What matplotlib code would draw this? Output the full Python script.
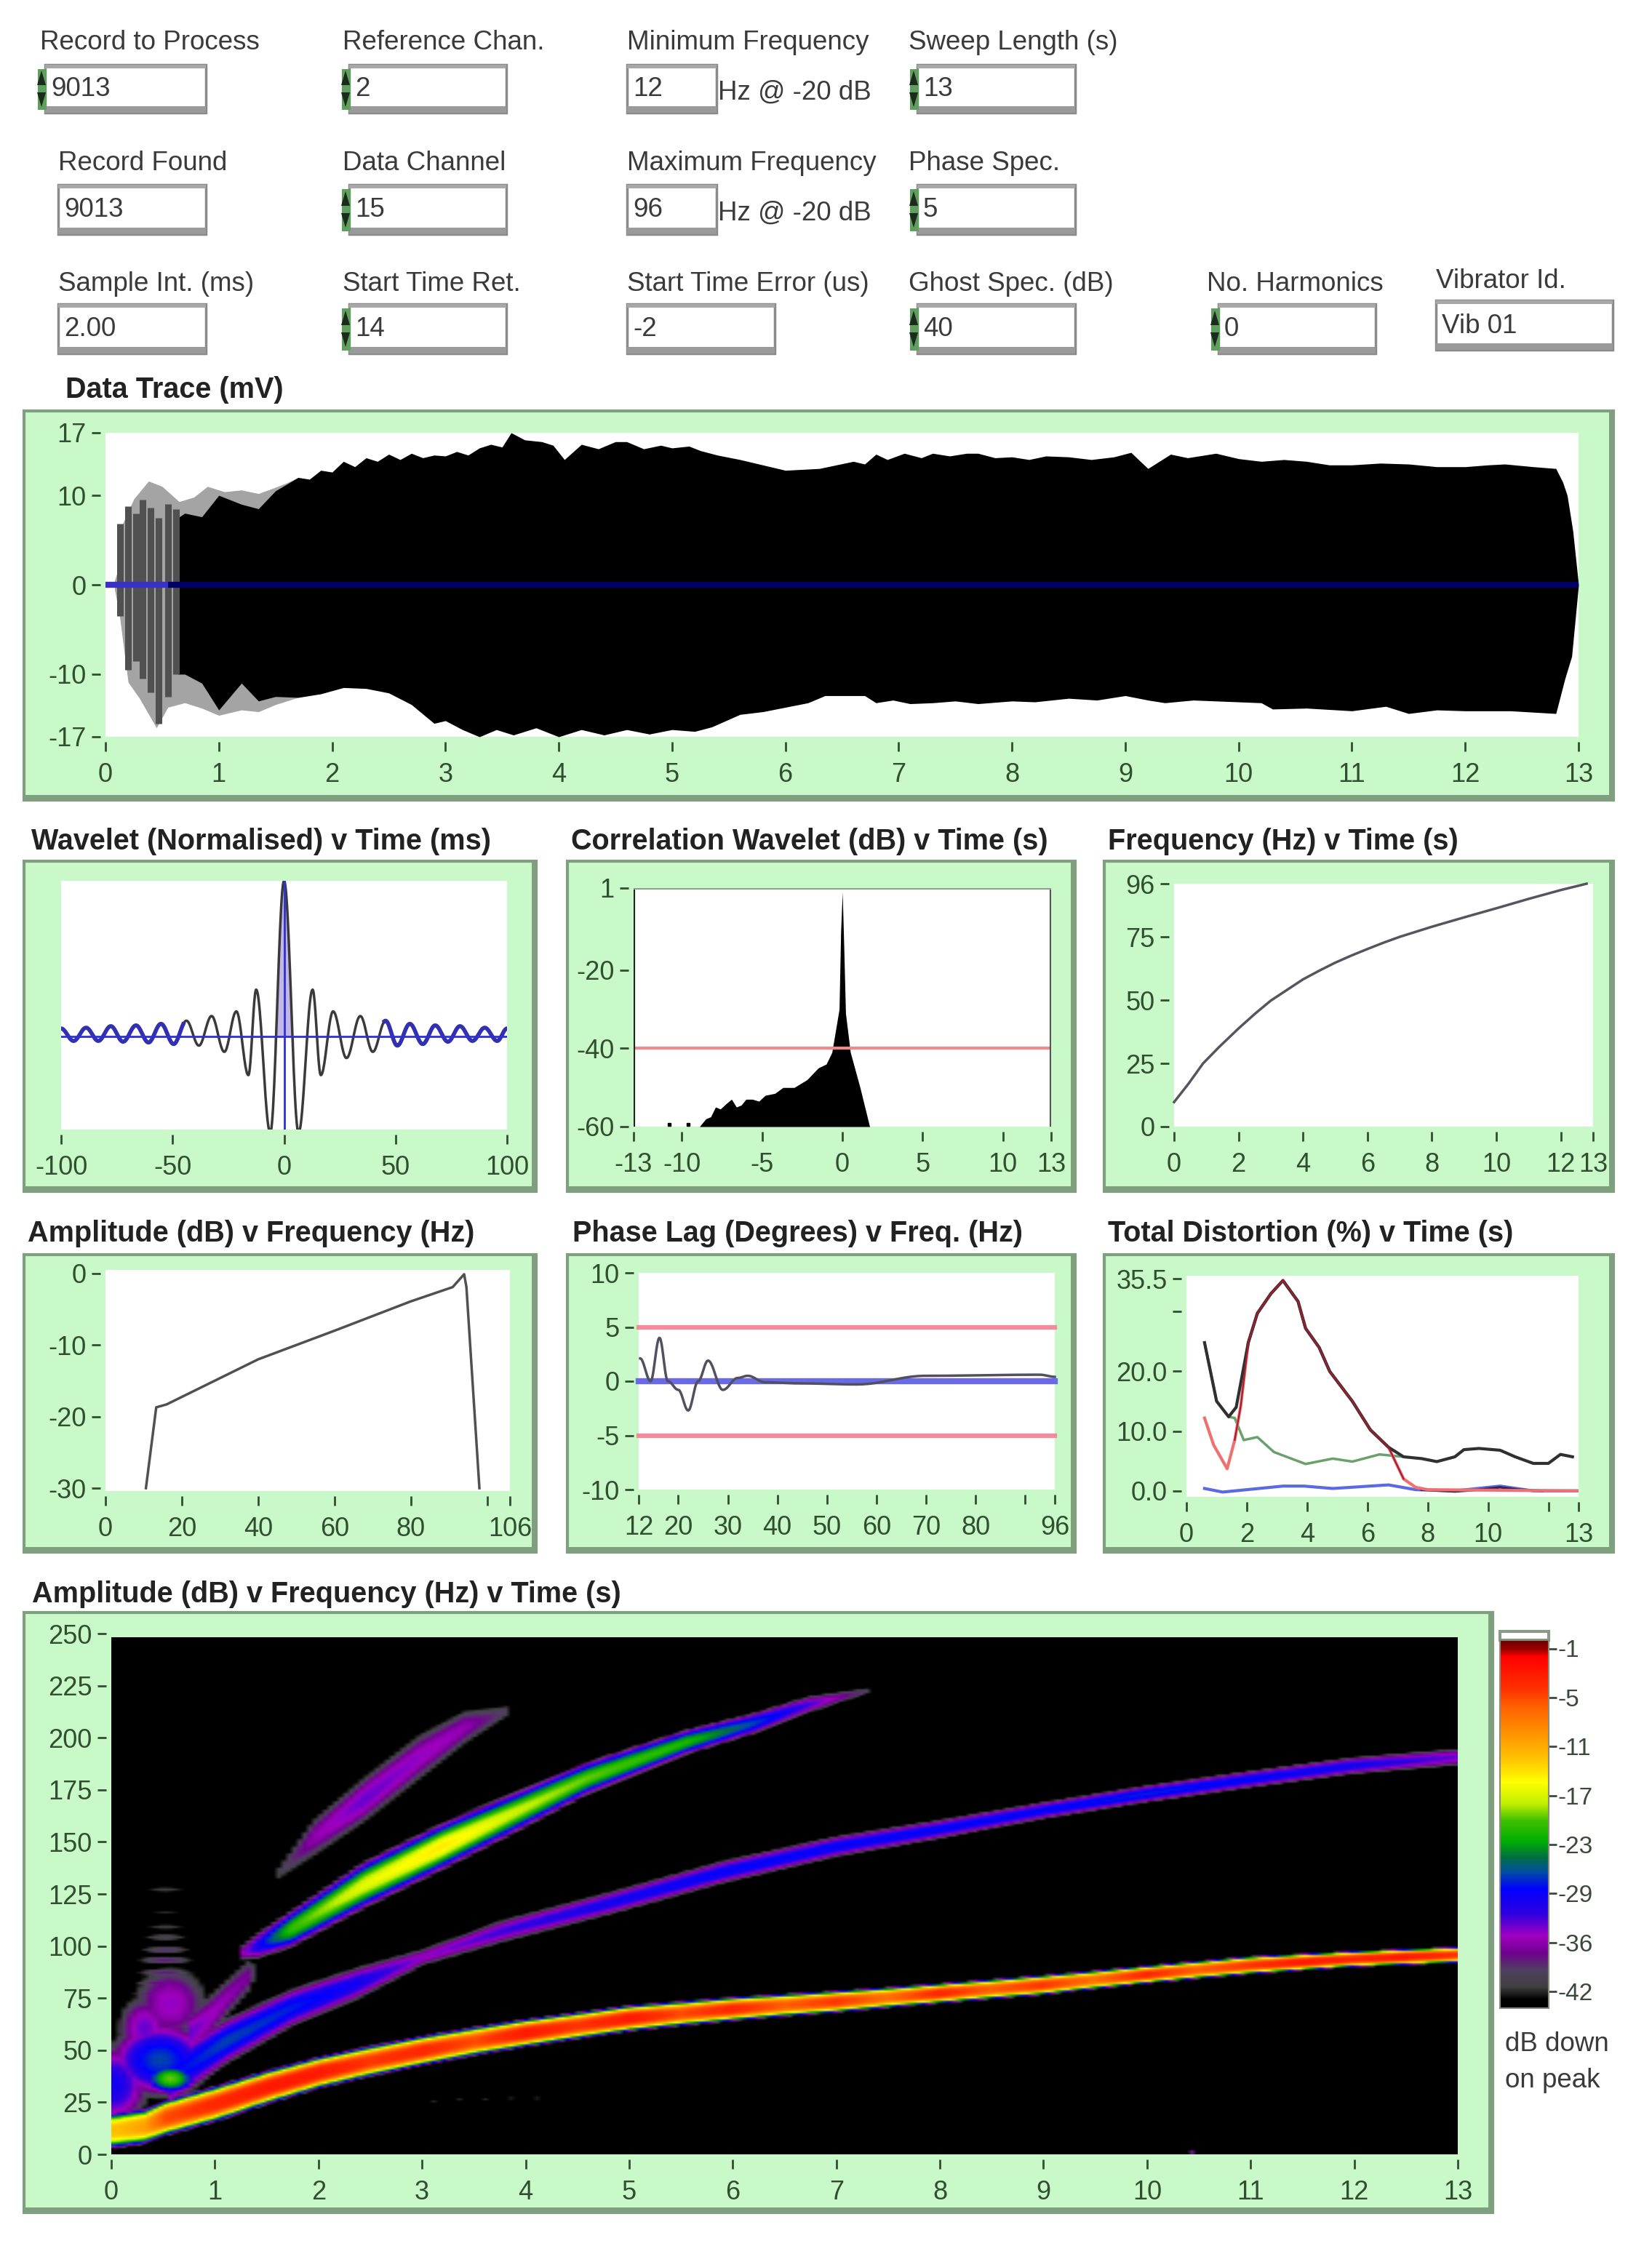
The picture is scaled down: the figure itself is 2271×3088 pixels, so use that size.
import numpy as np
import matplotlib
matplotlib.use("Agg")
import matplotlib.pyplot as plt
from matplotlib.colors import LinearSegmentedColormap
from matplotlib.patches import Rectangle, Polygon

plt.rcParams['font.family'] = ['Liberation Sans', 'DejaVu Sans']
plt.rcParams['axes.unicode_minus'] = False

W, H = 2271, 3088
GREEN = '#c9f8c9'
EDGE = '#7f9f7f'
TICKC = '#2f4f2f'
TXT = '#3a3a3a'

# ---------- control widgets (label, value) ----------
row1 = [("Record to Process", "9013"), ("Reference Chan.", "2"), ("Minimum Frequency", "12"), ("Sweep Length (s)", "13")]
row2 = [("Record Found", "9013"), ("Data Channel", "15"), ("Maximum Frequency", "96"), ("Phase Spec.", "5")]
row3 = [("Sample Int. (ms)", "2.00"), ("Start Time Ret.", "14"), ("Start Time Error (us)", "-2"),
        ("Ghost Spec. (dB)", "40"), ("No. Harmonics", "0"), ("Vibrator Id.", "Vib 01")]
hz_note = "Hz @ -20 dB"

# ---------- data trace envelope ----------
trace_t = [0.08, 0.12, 0.15, 0.25, 0.38, 0.5, 0.65, 0.78, 0.9, 1.05, 1.2, 1.35, 1.5, 1.6, 1.7, 1.8, 1.9, 2.0, 2.1, 2.2, 2.3, 2.4, 2.5,
           2.6, 2.7, 2.8, 2.9, 3.0, 3.1, 3.2, 3.3, 3.4, 3.5, 3.58, 3.7, 3.85, 3.95, 4.05, 4.2, 4.35, 4.5, 4.6, 4.75, 4.9, 5.0,
           5.15, 5.25, 5.4, 5.6, 5.8, 6.0, 6.15, 6.3, 6.45, 6.6, 6.7, 6.8, 6.9, 7.05, 7.2, 7.3, 7.45, 7.6, 7.7, 7.85, 8.0, 8.15,
           8.3, 8.5, 8.7, 8.9, 9.05, 9.2, 9.4, 9.55, 9.7, 9.8, 10.0, 10.2, 10.4, 10.6, 10.8, 11.0, 11.25, 11.5, 11.75, 12.0,
           12.2, 12.35, 12.6, 12.8, 12.86, 12.9, 12.95, 13.0]
trace_up = [0.5, 2.0, 6.8, 9.6, 11.6, 11.0, 9.3, 9.8, 11.0, 10.4, 10.6, 10.2, 10.9, 11.4, 12.0, 11.8, 12.8, 12.6, 13.8, 13.2, 14.2, 13.8, 14.6,
            14.0, 14.7, 14.2, 14.5, 14.4, 14.9, 14.5, 15.3, 15.7, 15.4, 17.0, 16.2, 16.0, 15.6, 14.0, 15.7, 15.2, 16.0, 16.0, 15.2, 15.6, 15.3,
            15.5, 15.0, 14.5, 14.0, 13.4, 12.8, 12.9, 13.0, 13.4, 13.8, 13.5, 14.6, 14.0, 14.7, 14.2, 14.7, 14.4, 14.7, 14.7, 14.2, 14.3, 14.0,
            14.4, 14.3, 14.0, 14.3, 14.8, 13.0, 14.6, 14.2, 14.5, 14.7, 14.1, 13.8, 14.0, 13.8, 13.4, 13.4, 13.6, 13.5, 13.2, 13.2,
            13.4, 13.5, 13.2, 13.0, 11.5, 10.0, 6.0, 0.0]
low_t = [0.08, 0.12, 0.2, 0.3, 0.45, 0.55, 0.7, 0.85, 1.0, 1.2, 1.35, 1.5, 1.7, 1.9, 2.1, 2.3, 2.5, 2.7, 2.9, 3.0, 3.15, 3.3, 3.45, 3.6, 3.8, 4.0, 4.2, 4.4,
         4.6, 4.8, 5.0, 5.2, 5.35, 5.6, 5.8, 6.0, 6.2, 6.35, 6.7, 6.8, 6.95, 7.1, 7.3, 7.5, 7.7, 8.0, 8.2, 8.5, 8.75, 9.0, 9.2, 9.35, 9.6, 10.0, 10.2, 10.3, 10.6, 11.0, 11.3, 11.5, 11.75, 12.0, 12.4, 12.8, 12.88, 12.94, 13.0]
trace_low = [-0.5, -3.1, -10.9, -12.7, -16.0, -13.7, -13.2, -13.8, -14.6, -14.0, -14.2, -13.4, -12.6, -12.2, -11.5, -11.6, -12.1, -13.4, -15.5, -15.2, -16.2, -17.0, -16.2, -16.8, -16.0, -17.0, -16.2, -16.8,
             -16.2, -16.7, -16.2, -16.4, -15.9, -14.5, -14.2, -13.7, -13.2, -12.4, -12.4, -13.2, -12.9, -13.3, -13.2, -13.0, -13.3, -13.0, -13.1, -12.7, -12.9, -12.4, -12.9, -13.2, -12.9, -13.1, -13.2, -13.9, -13.8, -14.1, -13.6, -14.4, -14.0, -14.1, -14.1, -14.4, -10.5, -8.0, 0.0]
core_t = [0.6, 0.64, 0.7, 0.85, 1.0, 1.2, 1.35, 1.5, 1.7]
core_up = [0.0, 7.5, 8.0, 7.6, 10.0, 9.0, 8.5, 10.5, 12.0]
core_low = [0.0, -10.0, -10.0, -11.0, -14.0, -11.0, -13.0, -12.5, -12.6]
grey_bars_t = [0.13, 0.2, 0.27, 0.33, 0.4, 0.47, 0.55, 0.62]
grey_bars_up = [6.8, 8.8, 8.0, 9.5, 8.6, 7.5, 9.0, 8.5]
grey_bars_low = [-3.5, -9.5, -8.5, -10.5, -12.0, -15.5, -12.5, -10.0]

# ---------- wavelet extrema ----------
wave_t = [-100, -94.4, -88.8, -83.3, -77.7, -72.2, -66.4, -60.8, -55.2, -49.5, -43.8, -38.2, -32.5, -26.8, -21.4, -16, -12.5, -6.2, 0,
          6.5, 12.8, 16.5, 22, 28, 34.2, 39.8, 45.5, 50.8, 56.4, 62.2, 67.8, 73.5, 78.9, 84.5, 90, 95.6, 100]
wave_v = [0.05, -0.03, 0.055, -0.03, 0.065, -0.035, 0.07, -0.04, 0.08, -0.05, 0.1, -0.06, 0.13, -0.1, 0.16, -0.25, 0.3, -0.62, 1.0,
          -0.62, 0.3, -0.25, 0.16, -0.14, 0.13, -0.1, 0.1, -0.06, 0.08, -0.05, 0.07, -0.035, 0.065, -0.03, 0.055, -0.03, 0.05]

# ---------- correlation wavelet envelope ----------
corr_t = [-8.9, -8.5, -8.2, -7.9, -7.6, -7.2, -6.9, -6.6, -6.3, -6.0, -5.6, -5.2, -4.8, -4.2, -3.7, -3.0, -2.2, -1.5, -1.0, -0.65, -0.2, -0.1, 0.0, 0.1, 0.2, 0.5, 1.1, 1.7]
corr_db = [-60, -58, -57.5, -55, -55.5, -54, -53, -55, -54.5, -53, -53, -53.5, -52, -51.5, -50, -50, -48, -45, -44, -41, -30, -10, 0, -15, -31, -41, -50, -60]
corr_dots_t = [-10.8, -9.6]
corr_limit = -40

# ---------- frequency ----------
freq_t = [0.0, 0.45, 0.9, 1.4, 2.0, 2.5, 3.0, 3.5, 4.0, 4.5, 5.0, 5.5, 6.0, 6.5, 7.0, 8.0, 9.0, 10.0, 11.0, 12.0, 12.8]
freq_hz = [9.7, 17, 25, 31.5, 38.8, 44.5, 49.8, 54, 58.2, 61.6, 64.8, 67.6, 70.2, 72.7, 75, 79, 82.7, 86.3, 90, 93.5, 96]

# ---------- amplitude ----------
amp_f = [10.6, 13.3, 16, 40, 60, 80, 91, 94, 94.6, 98]
amp_db = [-30, -18.7, -18.3, -12, -8, -3.9, -1.9, -0.1, -1.9, -30]

# ---------- phase ----------
phase_f = [12.3, 14.4, 16.2, 17.9, 20, 22, 24, 26, 29, 32, 34, 37.5, 44.5, 56, 70, 93, 96]
phase_deg = [2.1, 0, 4, 0, -0.8, -2.7, 0, 1.9, -0.8, 0.3, 0.5, -0.1, -0.2, -0.3, 0.5, 0.6, 0.4]
phase_limits = [5, -5]

# ---------- distortion ----------
dist_t = [0.6, 1.0, 1.4, 1.65, 2.05, 2.35, 2.8, 3.2, 3.7, 3.95, 4.4, 4.75, 5.5, 6.1, 6.7, 7.2, 7.8, 8.3, 8.9, 9.2, 9.7, 10.4, 10.9, 11.5, 12.0, 12.4, 12.8]
dist_total = [24.8, 15, 12.4, 14, 24.8, 29.7, 33, 35.2, 31.7, 27.2, 24, 20, 15, 10.2, 7.3, 5.7, 5.4, 4.9, 5.7, 6.9, 7.1, 6.8, 5.7, 4.6, 4.6, 6.1, 5.7]
red_t = [0.6, 0.9, 1.35, 1.6, 1.8, 2.05, 2.35, 2.8, 3.2, 3.7, 3.95, 4.4, 4.75, 5.5, 6.1, 6.7, 7.2, 7.6, 8.0, 13.0]
red_v = [12.2, 7.7, 3.7, 8.5, 14.2, 24.8, 29.7, 33, 35.2, 31.7, 27.2, 24, 20, 15, 10.2, 7.3, 2, 0.6, 0.2, 0.0]
green_t = [0.6, 1.0, 1.4, 1.6, 1.9, 2.35, 2.9, 3.95, 4.85, 5.5, 6.4, 7.2]
green_v = [24.8, 15, 12.4, 12.2, 8.5, 9, 6.5, 4.5, 5.4, 4.9, 6.1, 5.7]
blue_t = [0.6, 1.2, 3.2, 3.9, 4.85, 6.7, 7.6, 8.9, 10.4, 11.5, 13.0]
blue_v = [0.4, -0.2, 0.8, 0.8, 0.4, 1.0, 0.2, 0.0, 0.8, 0.0, 0.0]
purple_t = [7.8, 8.9, 9.7, 10.4, 11.0, 11.8]
purple_v = [0.2, -0.1, 0.2, 0.6, 0.2, 0.0]

# ---------- spectrogram ridges: time, frequency, peak dB, half-width (Hz) ----------
r1_t = [0, 0.3, 0.5, 1, 1.5, 2, 2.5, 3, 3.5, 4, 4.5, 5, 5.5, 6, 6.5, 7, 7.5, 8, 8.5, 9, 9.5, 10, 10.5, 11, 11.5, 12, 12.5, 13]
r1_f = [11, 13, 17, 24, 32, 39, 44.5, 49.5, 54, 58, 61.5, 65, 67.3, 69.5, 71.3, 73, 75, 77, 79, 81, 83.5, 86, 88.3, 90.5, 92, 93.5, 94.5, 95.5]
r1_p = [-14, -12, -7, -5, -4, -4, -6, -5, -7, -4, -6, -4, -7, -5, -8, -6, -9, -5, -8, -6, -9, -5, -8, -6, -4, -5, -4, -6]
r1_w = [9, 9, 9, 9, 8.5, 8, 7.7, 7.5, 7.2, 7, 6.7, 6.5, 6.2, 6, 5.7, 5.5, 5.2, 5, 5, 5, 4.7, 4.5, 4.5, 4.5, 4.2, 4, 4, 4]
r2_t = [0.54, 1.08, 1.72, 2.37, 3.0, 3.77, 4.85, 5.9, 7, 8, 9, 10, 11, 12, 13]
r2_f = [36, 53.6, 70, 82, 94.5, 107, 121, 135.4, 147.7, 156, 165, 173, 180, 186.6, 190.7]
r2_p = [-30, -28, -29, -31, -35, -33, -31, -30, -30, -30, -30, -29, -30, -31, -34]
r2_w = [15, 12, 10, 8.5, 4.5, 6, 6, 6, 5.5, 5, 4.5, 4.5, 4.5, 4.5, 4.5]
r3_t = [1.24, 1.4, 1.72, 2.42, 3.18, 3.88, 4.58, 5.55, 6.2, 6.73, 7.33]
r3_f = [96.5, 100, 108, 129, 147.7, 164, 180.4, 198, 207, 216, 223]
r3_p = [-36, -31, -22, -18, -16, -19, -21, -23, -28, -33, -40]
r3_w = [4, 7, 9.5, 12, 12, 10.5, 8.5, 6.5, 5.5, 4.5, 1.5]
r4_t = [1.56, 1.94, 2.42, 2.96, 3.4, 3.82]
r4_f = [133, 152, 170, 190.7, 205, 213]
r4_p = [-41, -36, -34, -35, -36, -40]
r4_w = [3, 10, 12, 12, 9, 3]
r5_t = [0.75, 0.9, 1.1, 1.3, 1.38]
r5_f = [58, 64, 75, 85, 88]
r5_p = [-34, -35, -36, -37, -41]
r5_w = [12, 12, 10, 9, 4]
# blobs: centre t, centre f, spread t, spread f, peak dB
blob_t = [0.55, 0.45, 0.0, 0.55, 0.3]
blob_f = [36, 45, 33, 72, 60]
blob_st = [0.24, 0.55, 0.42, 0.52, 0.36]
blob_sf = [7, 20, 24, 26, 22]
blob_p = [-21, -28, -31, -35, -34]
stripe_f = [127, 116, 109, 104, 98, 93, 87, 82, 77, 72, 66, 60, 55]
stripe_p = [-41, -42, -41, -40, -39, -38, -38, -37, -36, -36, -36, -36, -36]
speck_t = [3.1, 3.35, 3.6, 3.85, 4.1, 10.45]
speck_f = [25, 26, 26, 26.5, 26.5, 0.5]
speck_p = [-42, -42, -42, -41, -41, -37]

# ---------- colour bar ----------
cbar_labels = ['-1', '-5', '-11', '-17', '-23', '-29', '-36', '-42']
cmap_db = [-44, -43, -41.5, -39.5, -37.4, -35.4, -32.8, -29.8, -27.7, -26, -24, -21.6, -19.6, -17, -14.5, -12, -8, -5.8, -2, -1.2, -0.2]
cmap_col = ['#000000', '#000000', '#404040', '#504060', '#700090', '#a000c0', '#3000e0', '#0000ff', '#0050a0', '#007040',
            '#00b000', '#40c000', '#c0f000', '#ffff00', '#ffc800', '#ffa000', '#ff6000', '#ff3000', '#ff0000', '#a00000', '#700000']

fig = plt.figure(figsize=(W / 100, H / 100), dpi=100, facecolor='white')
ov = fig.add_axes([0, 0, 1, 1], zorder=0)
ov.set_xlim(0, W); ov.set_ylim(H, 0); ov.axis('off')

TICK_FS = 26
TITLE_FS = 28.5
LABEL_FS = 26.5


def panel(x0, y0, x1, y1):
    ov.add_patch(Rectangle((x0, y0), x1 - x0, y1 - y0, fc=GREEN, ec=EDGE, lw=3))
    ov.add_patch(Rectangle((x0, y1 - 7), x1 - x0, 7, fc=EDGE, ec='none'))
    ov.add_patch(Rectangle((x1 - 6, y0), 6, y1 - y0, fc=EDGE, ec='none'))


def axes(xl, xr, yb, yt, fc='white'):
    a = fig.add_axes([xl / W, 1 - yb / H, (xr - xl) / W, (yb - yt) / H], zorder=2, facecolor=fc)
    for s in ['top', 'right']:
        a.spines[s].set_visible(False)
    for s in ['left', 'bottom']:
        a.spines[s].set_visible(False)
        a.spines[s].set_position(('outward', 5))
    a.tick_params(axis='both', colors=TICKC, labelsize=TICK_FS, width=2, length=9)
    a.tick_params(axis='x', pad=11)
    a.tick_params(axis='y', pad=5)
    return a


def title(x, y, s):
    ov.text(x, y, s, fontsize=TITLE_FS, fontweight='bold', color='#222222', va='center', ha='left')


def smooth(x, y, n=24):
    xs, ys = [], []
    for i in range(len(x) - 1):
        u = np.linspace(0, 1, n, endpoint=False)
        w = (1 - np.cos(np.pi * u)) / 2
        xs.append(x[i] + (x[i + 1] - x[i]) * u)
        ys.append(y[i] + (y[i + 1] - y[i]) * w)
    return np.concatenate(xs + [[x[-1]]]), np.concatenate(ys + [[y[-1]]])


# ---------- controls ----------
def box(x0, y0, x1, y1, val, spin=True, fs=LABEL_FS):
    ov.add_patch(Rectangle((x0, y0), x1 - x0, y1 - y0, fc='white', ec='#8a8a8a', lw=2.5))
    ov.add_patch(Rectangle((x0, y0), x1 - x0, 5, fc='#a8a8a8', ec='none'))
    ov.add_patch(Rectangle((x0, y1 - 9), x1 - x0, 9, fc='#9a9a9a', ec='none'))
    if spin:
        cy = (y0 + y1) / 2
        ov.add_patch(Rectangle((x0 - 10, y0 + 6), 12, y1 - y0 - 10, fc='#5fa05f', ec='none'))
        ov.add_patch(Polygon([(x0 - 11, cy - 5), (x0 + 1, cy - 5), (x0 - 5, cy - 25)], fc='#1c2c1c', ec='none'))
        ov.add_patch(Polygon([(x0 - 11, cy + 5), (x0 + 1, cy + 5), (x0 - 5, cy + 25)], fc='#1c2c1c', ec='none'))
    ov.text(x0 + 8, (y0 + y1) / 2 + 1, val, fontsize=fs, color=TXT, va='center', ha='left')


def lab(x, y, s):
    ov.text(x, y, s, fontsize=LABEL_FS, color=TXT, va='center', ha='left')


col_box = [(62, 283), (480, 696), (862, 985), (1261, 1478)]
col_lab1 = [55, 471, 862, 1249]
col_lab2 = [80, 471, 862, 1249]
for (lbl, val), (a, b), lx, i in zip(row1, col_box, col_lab1, range(4)):
    lab(lx, 59, lbl)
    box(a, 89, b, 155, val, spin=(i != 2))
ov.text(987, 127, hz_note, fontsize=LABEL_FS, color=TXT, va='center')
for (lbl, val), (a, b), lx, i in zip(row2, [(80, 283)] + col_box[1:], col_lab2, range(4)):
    lab(lx, 225, lbl)
    box(a, 254, b, 322, val, spin=(i in (1, 3)))
ov.text(987, 293, hz_note, fontsize=LABEL_FS, color=TXT, va='center')
pos3 = [(80, 283), (480, 696), (862, 1065), (1261, 1478), (1675, 1891)]
lab3 = [80, 471, 862, 1249, 1659]
for (lbl, val), (a, b), lx, i in zip(row3[:5], pos3, lab3, range(5)):
    lab(lx, 391, lbl)
    box(a, 418, b, 486, val, spin=(i in (1, 3, 4)))
lab(1974, 386, row3[5][0])
box(1974, 413, 2217, 481, row3[5][1], spin=False)

# ---------- data trace ----------
title(90, 536, "Data Trace (mV)")
panel(33, 565, 2218, 1100)
a = axes(145, 2170, 1013, 595)
a.set_xlim(0, 13); a.set_ylim(-17, 17)
tt = np.union1d(np.union1d(trace_t, low_t), core_t)
up = np.interp(tt, trace_t, trace_up)
lo = np.interp(tt, low_t, trace_low)
a.fill_between(tt, lo, up, where=tt <= 1.75, color='#a4a4a4', lw=0, interpolate=True)
cu = np.where(tt >= 1.7, up, np.interp(tt, core_t, core_up))
cl = np.where(tt >= 1.7, lo, np.interp(tt, core_t, core_low))
a.fill_between(tt, cl, cu, where=tt >= 0.6, color='black', lw=0)
a.vlines(grey_bars_t, grey_bars_low, grey_bars_up, color='#505050', lw=6.5)
a.plot([0.55, 13], [0, 0], color='#000066', lw=6, solid_capstyle='butt')
a.plot([0, 0.55], [0, 0], color='#3a30c8', lw=6, solid_capstyle='butt')
a.set_xticks(range(14)); a.set_yticks([17, 10, 0, -10, -17])

# ---------- wavelet ----------
title(43, 1157, "Wavelet (Normalised) v Time (ms)")
panel(33, 1184, 737, 1638)
a = axes(84, 697, 1553, 1211)
a.set_xlim(-100, 100); a.set_ylim(-0.6, 1)
tw, vw = smooth(np.array(wave_t, float), np.array(wave_v, float))
a.fill_between(tw, 0, vw, where=np.abs(tw) < 4.5, color='#c0b8e8', lw=0)
a.plot(tw, vw, color='#3a3a3a', lw=2.5)
m = np.abs(tw) > 45
a.plot(np.where(m, tw, np.nan), vw, color='#3030b0', lw=4)
a.axhline(0, color='#3030d0', lw=2)
a.axvline(0, color='#3030d0', lw=2)
a.set_xticks([-100, -50, 0, 50, 100]); a.set_yticks([])

# ---------- correlation ----------
title(785, 1157, "Correlation Wavelet (dB) v Time (s)")
panel(780, 1184, 1478, 1638)
a = axes(871, 1445, 1549, 1221)
a.set_xlim(-13, 13); a.set_ylim(-60, 1)
a.fill_between(corr_t, -60, corr_db, color='black', lw=0)
a.plot(corr_dots_t, [-59.4, -59.4], ls='none', marker='s', ms=3, color='black')
a.axhline(corr_limit, color='#f08a8a', lw=3)
a.axvline(-13, color='#222222', lw=3); a.axvline(13, color='#555555', lw=3)
a.axhline(1, color='#8fa08f', lw=3)
a.set_xticks([-13, -10, -5, 0, 5, 10, 13]); a.set_yticks([1, -20, -40, -60])

# ---------- frequency ----------
title(1523, 1157, "Frequency (Hz) v Time (s)")
panel(1518, 1184, 2218, 1638)
a = axes(1614, 2190, 1549, 1215)
a.set_xlim(0, 13); a.set_ylim(0, 96)
a.plot(freq_t, freq_hz, color='#555560', lw=2.5, clip_on=False)
a.set_xticks([0, 2, 4, 6, 8, 10, 12, 13]); a.set_yticks([96, 75, 50, 25, 0])

# ---------- amplitude ----------
title(38, 1696, "Amplitude (dB) v Frequency (Hz)")
panel(33, 1725, 737, 2134)
a = axes(145, 701, 2050, 1746)
a.set_xlim(0, 106); a.set_ylim(-30.4, 0.5)
a.plot(amp_f, amp_db, color='#505050', lw=2.5)
a.set_xticks([0, 20, 40, 60, 80, 100, 106]); a.set_xticklabels(['0', '20', '40', '60', '80', '', '106'])
a.set_yticks([0, -10, -20, -30])

# ---------- phase ----------
title(787, 1696, "Phase Lag (Degrees) v Freq. (Hz)")
panel(780, 1725, 1478, 2134)
a = axes(878, 1450, 2048, 1750)
a.set_xlim(12, 96); a.set_ylim(-10, 10)
for v in phase_limits:
    a.plot([12, 96], [v, v], color='#f48a9a', lw=4.5, clip_on=False)
a.plot([12, 96], [0, 0], color='#6a6ae8', lw=6, clip_on=False)
pf, pd_ = smooth(np.array(phase_f, float), np.array(phase_deg, float))
a.plot(pf, pd_, color='#505060', lw=2.5, clip_on=False)
a.set_xticks([12, 20, 30, 40, 50, 60, 70, 80, 90, 96])
a.set_xticklabels(['12', '20', '30', '40', '50', '60', '70', '80', '', '96'])
a.set_yticks([10, 5, 0, -5, -10])

# ---------- distortion ----------
title(1523, 1696, "Total Distortion (%) v Time (s)")
panel(1518, 1725, 2218, 2134)
a = axes(1631, 2170, 2058, 1754)
a.set_xlim(0, 13); a.set_ylim(-1, 36)
a.plot(green_t, green_v, color='#6aa06a', lw=2.5)
a.plot(blue_t, blue_v, color='#5a6ae0', lw=3)
a.plot(purple_t, purple_v, color='#402050', lw=2.5)
a.plot(red_t, red_v, color='#f07070', lw=3)
a.plot(dist_t, dist_total, color='#303030', lw=3)
a.plot(red_t[3:17], red_v[3:17], color='#a02030', lw=1.5)
a.set_xticks([0, 2, 4, 6, 8, 10, 12, 13]); a.set_xticklabels(['0', '2', '4', '6', '8', '10', '', '13'])
a.set_yticks([35.5, 30, 20, 10, 0]); a.set_yticklabels(['35.5', '', '20.0', '10.0', '0.0'])

# ---------- spectrogram ----------
title(44, 2192, "Amplitude (dB) v Frequency (Hz) v Time (s)")
panel(33, 2217, 2052, 3042)
a = axes(153, 2004, 2962, 2246, fc=GREEN)
a.set_xlim(0, 13); a.set_ylim(0, 250)
gt = np.linspace(0, 13, 261)
gf = np.linspace(0, 248, 249)
T, F = np.meshgrid(gt, gf)
field = np.full(T.shape, -60.0)
for rt, rf, rp, rw, ex in [(r1_t, r1_f, r1_p, r1_w, 3), (r2_t, r2_f, r2_p, r2_w, 2), (r3_t, r3_f, r3_p, r3_w, 2),
                           (r4_t, r4_f, r4_p, r4_w, 2), (r5_t, r5_f, r5_p, r5_w, 2)]:
    c = np.interp(gt, rt, rf); p = np.interp(gt, rt, rp); w = np.interp(gt, rt, rw)
    inside = (gt >= rt[0]) & (gt <= rt[-1])
    d = np.abs(F - c[None, :]) / w[None, :]
    v = p[None, :] - (44 + p[None, :]) * d ** ex
    field = np.where(inside[None, :], np.maximum(field, v), field)
for bt, bf, st, sf, bp in zip(blob_t, blob_f, blob_st, blob_sf, blob_p):
    field = np.maximum(field, bp - 16 * (((T - bt) / st) ** 2 + ((F - bf) / sf) ** 2))
for sfq, sp in zip(stripe_f, stripe_p):
    field = np.maximum(field, sp - 4 * ((T - 0.5) / 0.24) ** 2 - 8 * ((F - sfq) / 2.4) ** 2)
for st, sfq, sp in zip(speck_t, speck_f, speck_p):
    field = np.maximum(field, sp - 8 * (((T - st) / 0.06) ** 2 + ((F - sfq) / 1.2) ** 2))
stops = [(d + 44) / 44 for d in cmap_db]
cm = LinearSegmentedColormap.from_list('vib', list(zip(stops + [1.0], cmap_col + ['#700000'])), N=512)
a.imshow(field, origin='lower', extent=(0, 13, 0, 248), aspect='auto', cmap=cm, vmin=-44, vmax=0,
         interpolation='bilinear')
a.set_xlim(0, 13); a.set_ylim(0, 250)
a.set_xticks(range(14)); a.set_yticks(range(0, 251, 25))

# ---------- colour bar ----------
cb = fig.add_axes([2062 / W, 1 - 2761 / H, 67 / W, (2761 - 2255) / H], zorder=2)
grad = np.linspace(-44, 0, 512)[:, None]
cb.imshow(grad, origin='lower', extent=(0, 1, -44, 0), aspect='auto', cmap=cm, vmin=-44, vmax=0)
cb.set_xticks([])
cb.set_ylim(-44, 0)
cb.yaxis.tick_right()
cb.set_yticks(np.linspace(-1, -42, len(cbar_labels)))
cb.set_yticklabels(cbar_labels)
cb.tick_params(axis='y', colors='#3a4a3a', labelsize=TICK_FS - 2, width=2, length=8, pad=1)
for s in cb.spines.values():
    s.set_color('#8a8a7a'); s.set_linewidth(1.5)
ov.add_patch(Rectangle((2062, 2243), 67, 12, fc='white', ec='#8a9a8a', lw=3))
ov.text(2069, 2811, "dB down", fontsize=LABEL_FS, color=TXT, va='center')
ov.text(2069, 2860, "on peak", fontsize=LABEL_FS, color=TXT, va='center')

fig.savefig('out.png', dpi=100, facecolor='white')
